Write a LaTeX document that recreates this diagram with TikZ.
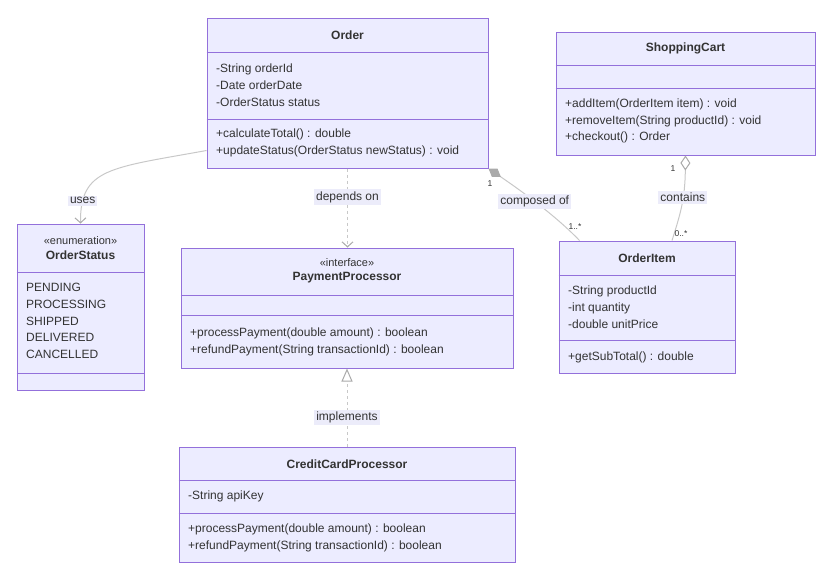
\documentclass[tikz,border=0pt]{standalone}
\usepackage{fontspec}
\setmainfont{Liberation Sans}
\usetikzlibrary{arrows.meta, positioning}
\definecolor{clsborder}{RGB}{147,112,219}
\definecolor{clsfill}{RGB}{236,236,255}
\definecolor{edgegray}{RGB}{200,200,200}
\definecolor{tipgray}{RGB}{170,170,170}
\definecolor{lblfill}{RGB}{236,236,250}
\definecolor{txt}{RGB}{51,51,51}

\begin{document}
\begin{tikzpicture}[x=1pt, y=-1pt,
  cls/.style={draw=clsborder, line width=1pt, fill=clsfill, inner sep=0pt},
  sep/.style={draw=clsborder, line width=1pt},
  title/.style={align=center, inner sep=0pt, text=txt, font=\fontsize{12}{14}\selectfont\bfseries},
  stereo/.style={align=center, inner sep=0pt, text=txt, font=\fontsize{11}{14.5}\selectfont},
  mbr/.style={anchor=west, align=left, inner sep=0pt, text=txt, font=\fontsize{12}{16.8}\selectfont},
  lbl/.style={fill=lblfill, inner sep=2pt, text=txt, font=\fontsize{12}{14}\selectfont},
  card/.style={inner sep=0pt, text=txt, font=\fontsize{8.5}{10}\selectfont},
  rel/.style={draw=edgegray, line width=1pt}
]
  \useasboundingbox (0,0) rectangle (833,584);

  % classes
  \node[cls, minimum width=281pt, minimum height=150pt] (order) at (347.5,93) {};
  \draw[sep] (order.west |- 0,52) -- (order.east |- 0,52);
  \draw[sep] (order.west |- 0,119) -- (order.east |- 0,119);
  \node[title] (orderTitle) at (347.5,35) {Order};
  \node[mbr] (orderAttr) at (216,85) {-String orderId\\-Date orderDate\\-OrderStatus status};
  \node[mbr] (orderOps) at (216,142.5) {+calculateTotal() : double\\+updateStatus(OrderStatus newStatus) : void};

  \node[cls, minimum width=259pt, minimum height=123pt] (cart) at (685.5,93.5) {};
  \draw[sep] (cart.west |- 0,65) -- (cart.east |- 0,65);
  \draw[sep] (cart.west |- 0,88) -- (cart.east |- 0,88);
  \node[title] (cartTitle) at (685.5,48.5) {ShoppingCart};
  \node[mbr] (cartOps) at (565,121) {+addItem(OrderItem item) : void\\+removeItem(String productId) : void\\+checkout() : Order};

  \node[cls, minimum width=127pt, minimum height=166pt] (status) at (80.5,307) {};
  \draw[sep] (status.west |- 0,272) -- (status.east |- 0,272);
  \draw[sep] (status.west |- 0,373) -- (status.east |- 0,373);
  \node[stereo] (statusTitle) at (80.5,248) {«enumeration»\\\textbf{\fontsize{12}{14}\selectfont OrderStatus}};
  \node[mbr] (statusVals) at (26,321) {PENDING\\PROCESSING\\SHIPPED\\DELIVERED\\CANCELLED};

  \node[cls, minimum width=332pt, minimum height=120pt] (payment) at (347,308) {};
  \draw[sep] (payment.west |- 0,295) -- (payment.east |- 0,295);
  \draw[sep] (payment.west |- 0,315) -- (payment.east |- 0,315);
  \node[stereo] (paymentTitle) at (347,271) {«interface»\\\textbf{\fontsize{12}{14}\selectfont PaymentProcessor}};
  \node[mbr] (paymentOps) at (190,342) {+processPayment(double amount) : boolean\\+refundPayment(String transactionId) : boolean};

  \node[cls, minimum width=176pt, minimum height=132pt] (orderitem) at (647,307) {};
  \draw[sep] (orderitem.west |- 0,275) -- (orderitem.east |- 0,275);
  \draw[sep] (orderitem.west |- 0,340) -- (orderitem.east |- 0,340);
  \node[title] (itemTitle) at (647,258) {OrderItem};
  \node[mbr] (itemAttr) at (568,307.5) {-String productId\\-int quantity\\-double unitPrice};
  \node[mbr] (itemOps) at (568,357) {+getSubTotal() : double};

  \node[cls, minimum width=336pt, minimum height=115pt] (credit) at (347,504.5) {};
  \draw[sep] (credit.west |- 0,480) -- (credit.east |- 0,480);
  \draw[sep] (credit.west |- 0,513) -- (credit.east |- 0,513);
  \node[title] (creditTitle) at (347,464) {CreditCardProcessor};
  \node[mbr] (creditAttr) at (188,496) {-String apiKey};
  \node[mbr] (creditOps) at (188,537.5) {+processPayment(double amount) : boolean\\+refundPayment(String transactionId) : boolean};

  % relations
  \draw[rel, -{Straight Barb[length=5pt, width=11pt, color=tipgray]}] ([yshift=18pt]order.south west)
    .. controls (110,168) and (80,168) .. (status.north) node[lbl, pos=0.84] (usesLbl) {uses};
  \draw[rel, dashed, -{Straight Barb[length=5pt, width=11pt, color=tipgray]}] (order.south) -- (order.south |- payment.north)
    node[lbl, pos=0.36] (dependsLbl) {depends on};
  \draw[rel, {Diamond[length=15pt, width=10pt, color=tipgray]}-] (order.south east)
    .. controls (520,190) and (555,215) .. ([xshift=21pt]orderitem.north west)
    node[lbl, pos=0.48] (composedLbl) {composed of};
  \draw[rel, {Diamond[open, length=15pt, width=10pt, fill=white, color=tipgray]}-] (cart.south)
    .. controls (685,200) and (680,215) .. ([xshift=25pt]orderitem.north) node[lbl, pos=0.4] (containsLbl) {contains};
  \draw[rel, dashed, -{Triangle[open, length=13pt, width=11pt, fill=white, color=tipgray]}] (credit.north) -- (payment.south)
    node[lbl, pos=0.37] (implementsLbl) {implements};

  % multiplicities
  \node[card] (compOne) at (490,184) {1};
  \node[card] (compMany) at (575,227) {1..*};
  \node[card] (contOne) at (673,169) {1};
  \node[card] (contMany) at (681,234) {0..*};
\end{tikzpicture}
\end{document}
